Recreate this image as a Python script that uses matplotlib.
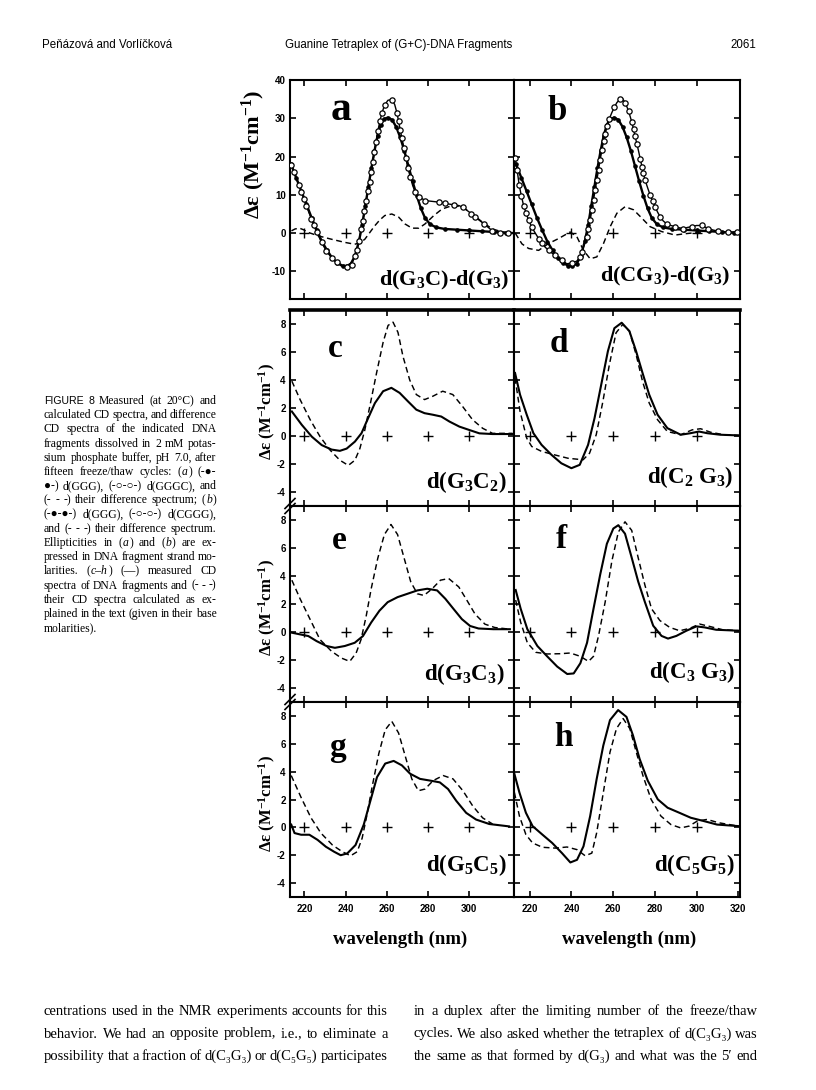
import matplotlib
matplotlib.use('Agg')
import matplotlib.pyplot as plt
from matplotlib.lines import Line2D

# ---------------- data ----------------
zero_marks = [220, 240, 260, 280, 300]

# panels a and b : d(GGG) (filled), shared
ggg_nm = [213.5, 216, 218.5, 221, 223.5, 226, 228.5, 231, 233.5, 236, 238.5, 240.5, 242.5, 244.5,
          246.5, 248, 249.5, 251, 252.5, 254, 255.5, 257, 258.5, 260.5, 262.5, 264.5, 266.5, 268.5,
          270.5, 272.5, 274.5, 276.5, 278.5, 281, 284, 288, 294, 300, 306, 312, 318, 322]
ggg_de = [18, 14.5, 11, 7.5, 4, 0.8, -2.2, -4.5, -6.5, -7.8, -8.5, -8.6, -8, -6,
          -2, 2, 7, 12, 17, 21.5, 25.5, 28.3, 29.8, 30.2, 29.6, 27.8, 25, 21.5,
          17.5, 13.5, 9.8, 6.5, 4, 2.3, 1.5, 1.1, 0.9, 0.7, 0.5, 0.3, 0.1, 0]

# panel a : d(GGGC) (open circles) and difference (dashed)
gggc_nm = [213.7, 215, 216.1, 217.3, 218.5, 219.8, 221, 222.2, 223.4, 224.6, 225.9, 227.1, 228.3,
           230.7, 233.2, 235.6, 238, 240.5, 242.9, 244.4, 245.5, 246.5, 247.5, 248.3, 249.1, 249.9,
           250.7, 251.6, 252.4, 253.2, 254, 254.8, 255.6, 256.6, 257.6, 258.9, 260.5, 262.4, 263.8,
           264.9, 265.7, 266.5, 267.3, 268.3, 269.3, 270.2, 271.4, 272.5, 273.8, 275.8, 278.7, 282,
           285.2, 288, 290.1, 292.5, 295, 297, 299, 301, 302.9, 305, 307.2, 309.2, 311.2, 313.2,
           315.1, 317, 319, 321.8]
gggc_de = [17.8, 16, 14.2, 12.5, 10.8, 9, 7.2, 5.4, 3.7, 2, 0.3, -1, -2.4,
           -4.7, -6.4, -7.6, -8.6, -8.9, -8.2, -6, -4.5, -2, 1.0, 3.2, 5.9, 8.3,
           10.9, 13.4, 16, 18.7, 21.3, 23.9, 26.6, 29.2, 31.4, 33.4, 34.7, 34.9, 33.6,
           31.4, 29.2, 27, 24.8, 22.2, 19.5, 16.9, 14.7, 12.5, 10.7, 9.4, 8.5, 8.3,
           8.1, 7.9, 7.6, 7.4, 7.2, 6.7, 5.9, 5.1, 4.2, 3.3, 2.4, 1.5, 0.6, 0.2,
           0, 0, 0, 0]
diff_a_nm = [213.7, 215.5, 217.6, 219.5, 221.8, 226.7, 233.2, 239.5, 244.4, 247, 249.3, 251.5, 254.1,
             256.5, 259, 262.4, 265.7, 268.8, 272.2, 275.5, 278.5, 282.8, 286.8, 291.7, 296.6, 301.5,
             306.3, 311.2, 316.1, 321.8]
diff_a_de = [0.6, 1.1, 1.3, 0.9, 0.2, -0.7, -1.6, -2.4, -2.9, -2.5, -1.6, 0, 1.9,
             3.4, 4.6, 5, 4.2, 2.4, 1.3, 1.3, 2.4, 4.6, 6.3, 7.2, 6.9, 5,
             2.9, 1.1, 0.3, 0]

# panel b : d(CGGG) (open circles) and difference (dashed)
cggg_nm = [213.1, 214, 215, 216, 217.1, 218.3, 219.5, 221, 222.7, 224.3, 225.9, 227.5, 229.1, 230.7,
           232.2, 233.9, 235.5, 237.8, 240.2, 242.6, 244, 245, 246.2, 247.4, 248.2, 249, 249.8,
           250.6, 251.4, 252.2, 253, 253.8, 254.6, 255.4, 256.2, 257, 258.2, 259.4, 260.6, 261.8,
           263.3, 264.5, 265.7, 266.6, 267.4, 268.2, 269, 269.8, 270.5, 271.4, 272.2, 273, 273.8,
           274.5, 275.3, 276.5, 277.7, 278.9, 280.1, 281.3, 282.5, 284, 285.7, 287.7, 289.7, 291.7,
           293.7, 295.7, 297.7, 300, 302.5, 304, 305.6, 308, 310.4, 312.8, 315.2, 317.2, 319.2, 320.8]
cggg_de = [19.5, 16.5, 12.5, 9.8, 7.2, 5.2, 3.4, 1.6, 0, -1.4, -2.7, -3.7, -4.5, -5.2,
           -5.8, -6.5, -7.1, -8, -7.8, -7.3, -6.3, -4.9, -3, -1, 1.2, 3.4, 6,
           8.7, 11.3, 13.9, 16.5, 19.2, 21.6, 24, 26, 28, 29.9, 31.5, 32.9, 34.1,
           35, 35.2, 34.1, 33, 31.9, 30.4, 28.9, 27.1, 25.3, 23.3, 21.4, 19.4, 17.4,
           15.6, 13.9, 11.9, 10, 8.4, 6.9, 5.5, 4.3, 3.2, 2.4, 2, 1.7, 1.4,
           1.2, 1.5, 1.7, 2, 2, 1.6, 1.2, 0.8, 0.5, 0.4, 0.3, 0.3, 0.3, 0.3]
diff_b_nm = [213.1, 216.3, 219.5, 224.3, 229.1, 233.9, 239.4, 242.6, 245.8, 249, 252.2, 255.4,
             258.6, 261.8, 265.7, 269.8, 273.8, 277.7, 283.3, 289.7, 293.7, 302.5]
diff_b_de = [0, -2.8, -4, -4.5, -2.7, -1.4, 0.3, -0.9, -4.5, -6.7, -6.2, -2.7,
             1.7, 5.2, 6.9, 6.1, 3.9, 1.7, 0.4, -0.5, -0.2, 0.3]

# panels c-h : measured (solid) and calculated (dashed)
c_meas_nm = [213.9, 218.7, 223.6, 228.4, 233.2, 237.2, 240.5, 244.5, 247.7, 250.9, 254.2, 258.2, 262.2,
             266.2, 270.2, 274.3, 278.3, 282.3, 286.4, 290.4, 295.2, 300, 304.9, 311.3, 321]
c_meas_de = [1.75, 0.8, -0.05, -0.65, -0.97, -1.06, -0.9, -0.4, 0.2, 1.27, 2.35, 3.2, 3.44,
             3.08, 2.48, 1.88, 1.63, 1.52, 1.39, 1.03, 0.67, 0.43, 0.19, 0.14, 0.14]
c_calc_nm = [213.9, 217.9, 222.8, 227.6, 232.4, 237.2, 241.3, 244.5, 246.9, 249.3, 251.7, 255, 258.2,
             260.6, 263, 265.4, 267.8, 271.1, 274.3, 278.3, 282.3, 287.1, 292, 296.8, 301.6, 306.5,
             311.3, 321]
c_calc_de = [3.92, 2.6, 1.16, -0.05, -1.0, -1.73, -2.1, -1.73, -0.9, 0.43, 2.1, 4.5, 6.7,
             7.9, 8.13, 7.4, 5.7, 4.0, 2.96, 2.6, 2.84, 3.2, 2.96, 2.1, 1.16, 0.55,
             0.19, 0.19]

d_meas_nm = [213, 215.4, 218.6, 221.8, 225.7, 230.5, 235.2, 240, 244, 248, 251.1, 254.3, 257.5,
             260.6, 264.1, 267.8, 271, 274.1, 277.3, 281.3, 286, 292.4, 297.1, 301.1, 305.1, 311.4,
             320.6]
d_meas_de = [4.5, 2.95, 1.52, 0.2, -0.63, -1.35, -1.95, -2.3, -2.06, -0.63, 1.28, 3.67, 6.06,
             7.7, 8.09, 7.49, 6.06, 4.5, 2.95, 1.52, 0.56, 0.09, 0.2, 0.32, 0.2, 0.09,
             0.04]
d_calc_nm = [213, 215.4, 218.6, 221, 225.7, 232, 238.4, 245.6, 248.7, 251.9, 255.1, 258.2, 261.4,
             264.6, 267.8, 271, 274.1, 277.3, 281.3, 286, 292.4, 297.9, 301.9, 306.7, 313, 320.6]
d_calc_de = [4.14, 1.76, -0.16, -0.75, -1.1, -1.35, -1.59, -1.7, -1.23, 0.09, 2.47, 5.1, 7.37,
             7.97, 7.49, 5.82, 3.9, 2.35, 1.16, 0.32, 0.09, 0.44, 0.52, 0.27, 0.09, 0.04]

e_meas_nm = [213.9, 217.9, 221.9, 225.9, 230.7, 234.8, 239.6, 244.4, 248.4, 252.4, 256.4, 260.4,
             265.2, 270, 274.8, 279.6, 284.4, 288.4, 292.4, 296.4, 300.4, 304.5, 311.7, 319.7]
e_meas_de = [-0.05, -0.17, -0.29, -0.65, -1.0, -1.13, -1.0, -0.77, -0.29, 0.68, 1.52, 2.13,
             2.49, 2.73, 2.97, 3.09, 2.97, 2.37, 1.64, 0.92, 0.43, 0.25, 0.2, 0.2]
e_calc_nm = [213.9, 217.9, 222.7, 227.5, 233.1, 237.9, 242, 245.1, 247.5, 250, 252.4, 255.6, 258.8,
             262, 265.2, 268.4, 271.6, 274.8, 278, 282, 286, 290, 294.9, 298.9, 302.8, 307.6,
             312.4, 319.7]
e_calc_de = [3.7, 2.37, 0.92, -0.53, -1.37, -1.86, -2.1, -1.5, -0.53, 1.16, 3.09, 5.27, 6.96,
             7.68, 6.96, 5.27, 3.58, 2.73, 2.61, 3.09, 3.7, 3.82, 3.22, 2.25, 1.28, 0.56,
             0.32, 0.2]

f_meas_nm = [213.3, 215.7, 218.9, 223.7, 228.4, 233.2, 238, 241.1, 244.3, 247.5, 250.6, 253.8, 257,
             260.1, 262.5, 265.7, 268.9, 272, 275.2, 279.2, 283.2, 286.3, 290.3, 295.1, 299.9, 303.8,
             309.4, 320.5]
f_meas_de = [3.0, 1.66, 0.2, -1.0, -1.74, -2.47, -3.0, -2.96, -2.23, -0.77, 1.66, 4.1, 6.3,
             7.39, 7.63, 7.02, 5.31, 3.61, 2.15, 0.45, -0.28, -0.47, -0.28, 0.09, 0.4, 0.33,
             0.16, 0.09]
f_calc_nm = [213.3, 215.7, 218.9, 222.9, 228.4, 234.8, 239.5, 244.3, 248.2, 250.6, 253, 256.2,
             259.4, 262.5, 265.7, 268.9, 272, 275.2, 278.4, 282.4, 287.1, 291.9, 296.7, 301.4,
             306.2, 312.5, 320.5]
f_calc_de = [2.28, 0.69, -0.77, -1.45, -1.57, -1.55, -1.5, -1.74, -2.1, -1.74, -0.28, 2.15,
             5.07, 7.14, 7.87, 7.26, 5.31, 3.37, 1.66, 0.82, 0.33, 0.09, 0.26, 0.57,
             0.4, 0.16, 0.09]

g_meas_nm = [213.6, 215.2, 218.4, 222.4, 226.4, 230.4, 234.4, 237.6, 240.8, 244.8, 248.8, 252,
             255.2, 259.2, 263.3, 267.3, 271.3, 276.1, 280.9, 285.7, 289.7, 293.7, 298.5, 303.3,
             309.7, 319.3]
g_meas_de = [0.2, -0.41, -0.53, -0.53, -0.9, -1.39, -1.75, -2.0, -1.87, -1.27, 0.2, 1.9,
             3.6, 4.58, 4.77, 4.45, 3.85, 3.48, 3.36, 3.23, 2.75, 1.9, 1.04, 0.56,
             0.24, 0.07]
g_calc_nm = [213.6, 218.4, 223.2, 228, 233.6, 238.4, 242.4, 245.6, 248, 250.4, 252.8, 256.1, 259.2,
             262.4, 265.7, 268.8, 272.1, 275.3, 278.5, 282.5, 287.3, 292.1, 296.9, 301.7, 306.5,
             311.3]
g_calc_de = [3.72, 2.14, 0.68, -0.41, -1.27, -1.75, -2.04, -1.75, -0.78, 0.93, 2.87, 5.3, 7.0,
             7.61, 6.77, 5.18, 3.48, 2.63, 2.75, 3.36, 3.72, 3.48, 2.63, 1.53, 0.68,
             0.24]

h_meas_nm = [212.7, 215.1, 218.2, 221.4, 226.1, 230.8, 235.5, 239.5, 242.7, 245.8, 249, 252.1,
             255.3, 258.5, 262.4, 266.4, 269.5, 272.7, 276.6, 281.4, 286.1, 291.7, 297.2, 303.5,
             309.8, 320]
h_meas_de = [3.83, 2.5, 1.05, 0.09, -0.52, -1.12, -1.85, -2.52, -2.33, -1.36, 0.81, 3.46,
             5.88, 7.7, 8.42, 7.93, 6.61, 4.91, 3.35, 2.01, 1.41, 1.05, 0.69, 0.45,
             0.2, 0.09]
h_calc_nm = [212.7, 215.1, 218.2, 221.4, 226.1, 232.4, 237.9, 242.7, 246.6, 249.8, 252.1, 255.3,
             258.5, 261.6, 264.8, 268, 271.1, 274.3, 278.2, 282.9, 287.7, 292.4, 296.4, 300.3,
             305, 310.6, 320]
h_calc_de = [2.5, 0.81, -0.52, -1.12, -1.43, -1.49, -1.41, -1.6, -2.04, -1.85, -0.4, 2.5,
             5.4, 7.09, 7.81, 7.09, 5.4, 3.71, 2.01, 0.81, 0.2, -0.04, 0.09, 0.45,
             0.57, 0.33, 0.09]

panel_letters = ['a', 'b', 'c', 'd', 'e', 'f', 'g', 'h']
seq_labels = [r'd(G$_3$C)-d(G$_3$)', r'd(CG$_3$)-d(G$_3$)', r'd(G$_3$C$_2$)', r'd(C$_2$ G$_3$)',
              r'd(G$_3$C$_3$)', r'd(C$_3$ G$_3$)', r'd(G$_5$C$_5$)', r'd(C$_5$G$_5$)']
xticks_left = [220, 240, 260, 280, 300]
xticks_right = [220, 240, 260, 280, 300, 320]
yticks_top = [-10, 0, 10, 20, 30, 40]
yticks_low = [-4, -2, 0, 2, 4, 6, 8]
ylabel_txt = r'Δε (M$^{-1}$cm$^{-1}$)'
xlabel_txt = 'wavelength (nm)'

header_left = 'Peňázová and Vorlíčková'
header_mid = 'Guanine Tetraplex of (G+C)-DNA Fragments'
header_right = '2061'

caption_lines = [
    '#FIGURE 8# Measured (at 20°C) and',
    'calculated CD spectra, and difference',
    'CD spectra of the indicated DNA',
    'fragments dissolved in 2 mM potas-',
    'sium phosphate buffer, pH 7.0, after',
    'fifteen freeze/thaw cycles: (*a*) (-●-',
    '●-) d(GGG), (-○-○-) d(GGGC), and',
    '(- - -) their difference spectrum; (*b*)',
    '(-●-●-) d(GGG), (-○-○-) d(CGGG),',
    'and (- - -) their difference spectrum.',
    'Ellipticities in (*a*) and (*b*) are ex-',
    'pressed in DNA fragment strand mo-',
    'larities. (*c–h*) (—) measured CD',
    'spectra of DNA fragments and (- - -)',
    'their CD spectra calculated as ex-',
    'plained in the text (given in their base',
    'molarities).',
]
body_left = [
    'centrations used in the NMR experiments accounts for this',
    'behavior. We had an opposite problem, i.e., to eliminate a',
    'possibility that a fraction of d(C₃G₃) or d(C₅G₅) participates',
]
body_right = [
    'in a duplex after the limiting number of the freeze/thaw',
    'cycles. We also asked whether the tetraplex of d(C₃G₃) was',
    'the same as that formed by d(G₃) and what was the 5′ end',
]

# ---------------- style ----------------
plt.rcParams.update({
    'font.family': ['Liberation Sans', 'DejaVu Sans'],
    'font.weight': 'bold',
    'axes.unicode_minus': False,
    'mathtext.fontset': 'custom',
    'mathtext.rm': 'Liberation Serif:bold',
    'mathtext.it': 'Liberation Serif:italic:bold',
    'mathtext.bf': 'Liberation Serif:bold',
})
SERIF = ['Liberation Serif', 'DejaVu Serif']
SANS = ['Liberation Sans', 'DejaVu Sans']

W, H = 816, 1090
fig = plt.figure(figsize=(W / 100, H / 100), dpi=100)
fig.patch.set_facecolor('white')


def add_ax(l, t, r, b):
    return fig.add_axes([l / W, 1 - b / H, (r - l) / W, (b - t) / H])


cols = [(290, 514), (514, 740)]
rows = [(80, 299), (310, 506), (506, 702), (702, 897)]
xlims = [(213, 321.7), (212.5, 320.8)]

series = [
    [(ggg_nm, ggg_de, 'dash_a'), (ggg_nm, ggg_de, 'filled'), (gggc_nm, gggc_de, 'open')],
    [(ggg_nm, ggg_de, 'dash_b'), (ggg_nm, ggg_de, 'filled'), (cggg_nm, cggg_de, 'open')],
    [(c_calc_nm, c_calc_de, 'dash'), (c_meas_nm, c_meas_de, 'solid')],
    [(d_calc_nm, d_calc_de, 'dash'), (d_meas_nm, d_meas_de, 'solid')],
    [(e_calc_nm, e_calc_de, 'dash'), (e_meas_nm, e_meas_de, 'solid')],
    [(f_calc_nm, f_calc_de, 'dash'), (f_meas_nm, f_meas_de, 'solid')],
    [(g_calc_nm, g_calc_de, 'dash'), (g_meas_nm, g_meas_de, 'solid')],
    [(h_calc_nm, h_calc_de, 'dash'), (h_meas_nm, h_meas_de, 'solid')],
]
diff_series = {'dash_a': (diff_a_nm, diff_a_de), 'dash_b': (diff_b_nm, diff_b_de)}

letter_pos = [(0.23, 0.817, 30), (0.19, 0.817, 25), (0.20, 0.76, 24), (0.20, 0.786, 24),
              (0.22, 0.78, 24), (0.21, 0.786, 24), (0.21, 0.724, 24), (0.22, 0.776, 24)]
seq_pos = [(0.982, 0.032, 16), (0.956, 0.05, 16), (0.969, 0.056, 16.5), (0.969, 0.082, 16.5),
           (0.96, 0.077, 16.5), (0.978, 0.087, 16.5), (0.969, 0.097, 16.5), (0.978, 0.097, 16.5)]

axes = []
for i in range(8):
    r, c = divmod(i, 2)
    (l, rr), (t, b) = cols[c], rows[r]
    ax = add_ax(l, t, rr, b)
    axes.append(ax)
    ax.set_xlim(*xlims[c])
    if r == 0:
        ax.set_ylim(-17.2, 40)
        ax.set_yticks(yticks_top)
    else:
        ax.set_ylim(-5, 9)
        ax.set_yticks(yticks_low)
    ax.set_xticks(xticks_right if (c == 1 and r == 3) else xticks_left)
    ax.tick_params(direction='in', top=True, right=True, length=4.5, width=1.2,
                   labelsize=7, pad=3)
    ax.tick_params(axis='x', labelbottom=(r == 3), pad=5)
    ax.tick_params(axis='y', labelleft=(c == 0))
    for sp in ax.spines.values():
        sp.set_linewidth(1.5)
    if r == 1:
        ax.spines['top'].set_linewidth(2.6)

    for xs, ys, kind in series[i]:
        if kind.startswith('dash'):
            dx, dy = diff_series.get(kind, (xs, ys))
            ax.plot(dx, dy, color='k', lw=1.05, dashes=(4, 2.5), zorder=2)
        elif kind == 'filled':
            ax.plot(xs, ys, color='k', lw=1.7, marker='o', ms=2.3, mfc='k', mec='k',
                    solid_joinstyle='round', zorder=3)
        elif kind == 'open':
            ax.plot(xs, ys, color='k', lw=1.0, marker='o', ms=3.8, mfc='white', mec='k',
                    mew=0.9, markevery=0.029, zorder=4)
        else:
            ax.plot(xs, ys, color='k', lw=1.5, solid_joinstyle='round', zorder=3)

    ax.plot(zero_marks, [0] * len(zero_marks), '+', color='k', ms=7, mew=1.0, zorder=5)

    lx, ly, ls = letter_pos[i]
    ax.text(lx, ly, panel_letters[i], transform=ax.transAxes, ha='center', va='baseline',
            fontsize=ls, family=SERIF, fontweight='bold')
    sx, sy, ss = seq_pos[i]
    ax.text(sx, sy, seq_labels[i], transform=ax.transAxes, ha='right', va='bottom',
            fontsize=ss, family=SERIF, fontweight='bold')

    if c == 0:
        if r == 0:
            ax.text(-0.165, 0.66, ylabel_txt, transform=ax.transAxes, rotation=90,
                    ha='center', va='center', fontsize=16, family=SERIF, fontweight='bold')
        else:
            ax.text(-0.10, 0.48, ylabel_txt, transform=ax.transAxes, rotation=90,
                    ha='center', va='center', fontsize=12, family=SERIF, fontweight='bold')

# x-axis titles
fig.text(400 / W, 1 - 939 / H, xlabel_txt, ha='center', va='center', fontsize=13.5,
         family=SERIF, fontweight='bold')
fig.text(629 / W, 1 - 939 / H, xlabel_txt, ha='center', va='center', fontsize=13.5,
         family=SERIF, fontweight='bold')

# axis-break marks on left spine
for yb in (506, 702):
    for off in (-2.5, 2.5):
        fig.add_artist(Line2D([285 / W, 295 / W], [1 - (yb + 5 + off) / H, 1 - (yb - 5 + off) / H],
                              transform=fig.transFigure, color='k', lw=1.2))

# ---------------- page text ----------------
fig.text(42 / W, 1 - 48 / H, header_left, ha='left', va='baseline', fontsize=8.3,
         family=SANS, fontweight='normal')
fig.text(399 / W, 1 - 48 / H, header_mid, ha='center', va='baseline', fontsize=8.3,
         family=SANS, fontweight='normal')
fig.text(756 / W, 1 - 48 / H, header_right, ha='right', va='baseline', fontsize=8.3,
         family=SANS, fontweight='normal')

renderer = fig.canvas.get_renderer()


def parse_line(line):
    words = []
    style = 'r'
    for w in line.split(' '):
        segs, buf = [], ''
        for ch in w:
            if ch in '*#':
                if buf:
                    segs.append((buf, style))
                    buf = ''
                tgt = 'i' if ch == '*' else 's'
                style = tgt if style != tgt else 'r'
            else:
                buf += ch
        if buf:
            segs.append((buf, style))
        if segs:
            words.append(segs)
    return words


def put_line(line, x0, x1, yb, size, justify=True):
    words = parse_line(line)
    placed, total = [], 0.0
    for segs in words:
        objs = []
        for txt, st in segs:
            if st == 'i':
                kw = dict(family=SERIF, style='italic', fontsize=size)
            elif st == 's':
                kw = dict(family=SANS, style='normal', fontsize=size * 0.9)
            else:
                kw = dict(family=SERIF, style='normal', fontsize=size)
            t = fig.text(x0 / W, 1 - yb / H, txt, ha='left', va='baseline',
                         fontweight='normal', **kw)
            w = t.get_window_extent(renderer=renderer).width
            objs.append((t, w))
            total += w + 0.6
        placed.append(objs)
    n = len(placed)
    space = size * 0.25 * 100 / 72
    gap = (x1 - x0 - total) / (n - 1) if (justify and n > 1) else space
    gap = max(gap, space * 0.6)
    x = x0
    for objs in placed:
        for t, w in objs:
            t.set_x(x / W)
            x += w + 0.6
        x += gap


for k, line in enumerate(caption_lines):
    put_line(line, 44, 217, 404 + 14.2 * k, 8.4, justify=(k < len(caption_lines) - 1))

for k, line in enumerate(body_left):
    put_line(line, 44, 388, 1015 + 22.5 * k, 10.5)
for k, line in enumerate(body_right):
    put_line(line, 414, 758, 1015 + 22.5 * k, 10.5)

fig.savefig('out.png', dpi=100, facecolor='white')
